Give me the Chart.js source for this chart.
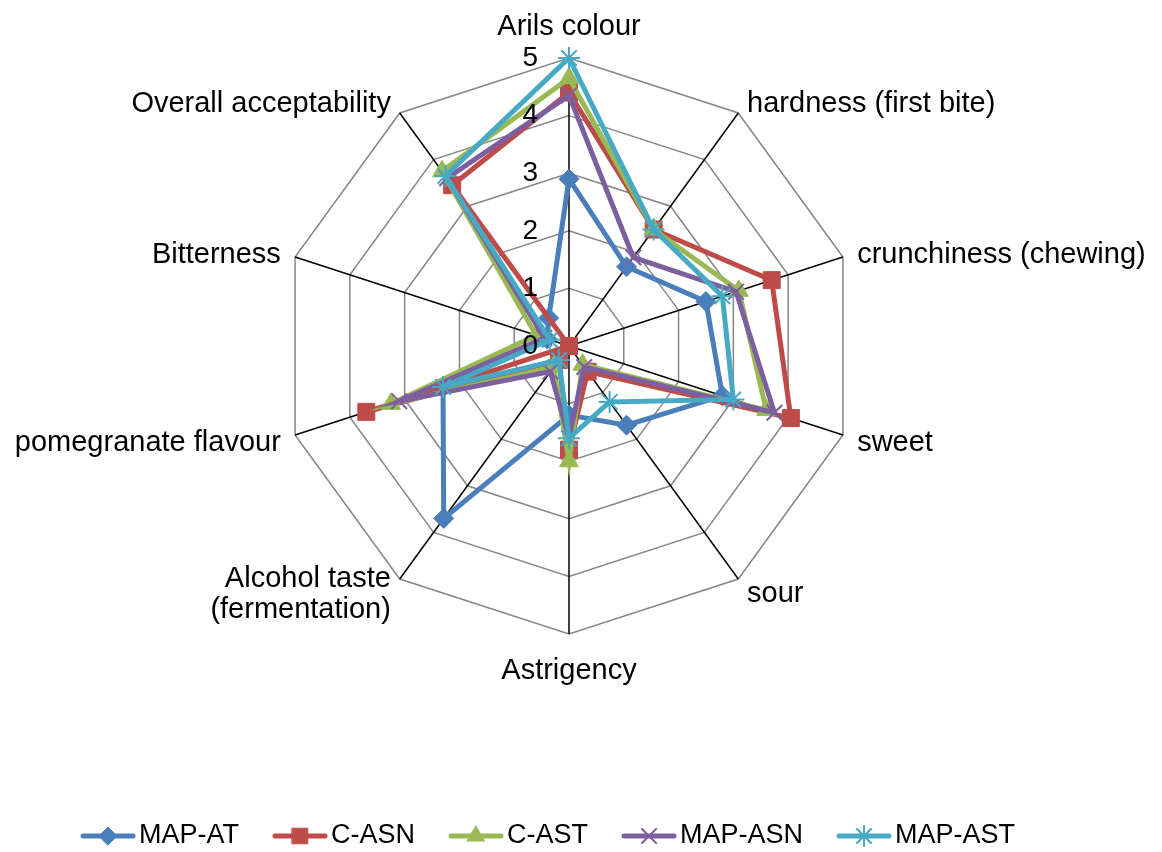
<!DOCTYPE html>
<html>
<head>
<meta charset="utf-8">
<script src="https://cdn.jsdelivr.net/npm/chart.js@4.4.0/dist/chart.umd.min.js"></script>
<style>
  html, body { margin: 0; padding: 0; background: #ffffff; }
  #chart { display: block; }
</style>
</head>
<body>
<canvas id="chart" width="1162" height="852"></canvas>
<script>
const categories = [
  "Arils colour",
  "hardness (first bite)",
  "crunchiness (chewing)",
  "sweet",
  "sour",
  "Astrigency",
  ["Alcohol taste", "(fermentation)"],
  "pomegranate flavour",
  "Bitterness",
  "Overall acceptability",
];

const seriesNames = ["MAP-AT", "C-ASN", "C-AST", "MAP-ASN", "MAP-AST"];

const mapAT = [2.9, 1.7, 2.5, 2.8, 1.7, 1.2, 3.7, 2.3, 0.4, 0.6];
const cASN = [4.4, 2.5, 3.7, 4.05, 0.55, 1.8, 0.3, 3.7, 0, 3.45];
const cAST = [4.65, 2.5, 3.1, 3.6, 0.4, 2.0, 0.45, 3.25, 0.6, 3.75];
const mapASN = [4.35, 1.9, 3.05, 3.75, 0.45, 1.6, 0.55, 3.1, 0.45, 3.6];
const mapAST = [5.0, 2.5, 2.8, 3.0, 1.2, 1.6, 0.3, 2.3, 0.35, 3.65];

const tickValues = [0, 1, 2, 3, 4, 5];

const colors = ["#4a7ebb", "#be4b48", "#98b954", "#7d5fa0", "#46aac5"];
const markers = ["rectRot", "rect", "triangle", "crossRot", "star"];
const markerSizes = [10, 12, 11, 11, 11];

const FONT = "'Liberation Sans', Arial, sans-serif";

function makeDataset(i, values) {
  return {
    label: seriesNames[i],
    data: values,
    borderColor: colors[i],
    backgroundColor: colors[i],
    borderWidth: 5,
    fill: false,
    tension: 0,
    pointStyle: markers[i],
    pointRadius: markerSizes[i],
    pointHoverRadius: markerSizes[i],
    pointBackgroundColor: colors[i],
    pointBorderColor: colors[i],
    pointBorderWidth: i >= 3 ? 2 : 1,
    order: 4 - i,
  };
}

// category names, placed just outside the outer ring like Excel does
const pointLabelPlugin = {
  id: "pointLabelsExcel",
  afterDraw(chart) {
    const scale = chart.scales.r;
    const ctx = chart.ctx;
    const dist = scale.drawingArea + 15;
    const lineH = 31;
    ctx.save();
    ctx.font = "29px " + FONT;
    ctx.fillStyle = "#000000";
    categories.forEach((label, i) => {
      const pos = scale.getPointPosition(i, dist);
      const deg = Math.round((scale.getIndexAngle(i) * 180) / Math.PI) % 360;
      const lines = Array.isArray(label) ? label : [label];
      let y = pos.y;
      if (deg === 0 || deg === 180) {
        ctx.textAlign = "center";
      } else {
        ctx.textAlign = deg < 180 ? "left" : "right";
      }
      if (deg === 0) {
        ctx.textBaseline = "bottom";
        y = pos.y - 2 - (lines.length - 1) * lineH;
      } else if (deg === 180) {
        ctx.textBaseline = "top";
        y = pos.y + 7;
      } else {
        ctx.textBaseline = "middle";
        y = pos.y + 3 - ((lines.length - 1) * lineH) / 2;
      }
      lines.forEach((t, k) => ctx.fillText(t, pos.x, y + k * lineH));
    });
    ctx.restore();
  },
};

// tick numbers sit left of the vertical axis, above the series lines
const tickPlugin = {
  id: "tickLabels",
  afterDatasetsDraw(chart) {
    const scale = chart.scales.r;
    const ctx = chart.ctx;
    ctx.save();
    ctx.font = "28px " + FONT;
    ctx.fillStyle = "#000000";
    ctx.textAlign = "right";
    ctx.textBaseline = "middle";
    tickValues.forEach((v) => {
      const y = scale.yCenter - scale.getDistanceFromCenterForValue(v);
      ctx.fillText(String(v), scale.xCenter - 31, y);
    });
    ctx.restore();
  },
};

// Excel-like legend: line with marker, then the name
const legendPlugin = {
  id: "lineLegend",
  afterDraw(chart) {
    const ctx = chart.ctx;
    const y = 836;
    let x = 80;
    ctx.save();
    ctx.font = "27px " + FONT;
    ctx.textBaseline = "middle";
    ctx.textAlign = "left";
    seriesNames.forEach((name, i) => {
      ctx.strokeStyle = colors[i];
      ctx.lineWidth = 5;
      ctx.lineCap = "round";
      ctx.beginPath();
      ctx.moveTo(x + 3, y);
      ctx.lineTo(x + 53, y);
      ctx.stroke();
      ctx.fillStyle = colors[i];
      ctx.strokeStyle = colors[i];
      ctx.lineWidth = i >= 3 ? 2 : 1;
      Chart.helpers.drawPoint(ctx, {
        pointStyle: markers[i],
        radius: markerSizes[i] - 1,
        rotation: 0,
        borderWidth: i >= 3 ? 2 : 1,
      }, x + 28, y);
      ctx.fillStyle = "#000000";
      ctx.fillText(name, x + 59, y);
      x += 59 + ctx.measureText(name).width + 33;
    });
    ctx.restore();
  },
};

const data = {
  labels: categories,
  datasets: [
    makeDataset(0, mapAT),
    makeDataset(1, cASN),
    makeDataset(2, cAST),
    makeDataset(3, mapASN),
    makeDataset(4, mapAST),
  ],
};

const config = {
  type: "radar",
  data: data,
  options: {
    responsive: false,
    animation: false,
    // plot square: centre (569, 346), radius 288
    layout: { padding: { top: 58, bottom: 218, left: 281, right: 305 } },
    plugins: {
      legend: { display: false },
      tooltip: { enabled: false },
    },
    scales: {
      r: {
        min: 0,
        max: 5,
        ticks: { stepSize: 1, display: false },
        grid: { color: "#868686", lineWidth: 1.5 },
        angleLines: { color: "#000000", lineWidth: 1.5 },
        pointLabels: { display: false },
      },
    },
  },
  plugins: [pointLabelPlugin, tickPlugin, legendPlugin],
};

new Chart(document.getElementById("chart"), config);
</script>
</body>
</html>
